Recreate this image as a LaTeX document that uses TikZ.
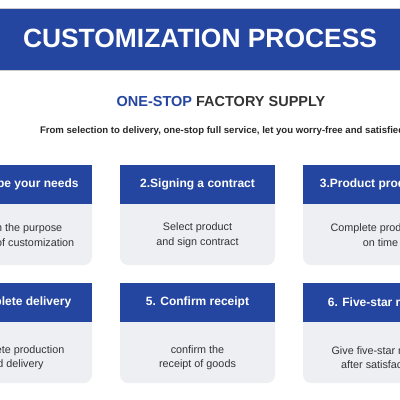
\documentclass[tikz,border=0pt]{standalone}
\usepackage{fontspec}
\setmainfont{Liberation Sans}
\usetikzlibrary{positioning}

\definecolor{procblue}{HTML}{2546A0}
\definecolor{cardgray}{HTML}{EEEFF3}
\definecolor{headgray}{HTML}{333333}

\begin{document}
\begin{tikzpicture}[x=1pt, y=-1pt,
		every node/.style={inner sep=0pt, outer sep=0pt},
		cardbody/.style={rectangle, rounded corners=8pt, fill=cardgray, minimum width=155pt, minimum height=100pt},
		cardhead/.style={rectangle, fill=procblue, text=white, minimum width=155pt, minimum height=39pt, font=\bfseries\fontsize{12}{15}\selectfont},
		cardtext/.style={align=center, text=headgray, font=\fontsize{10.8}{14.5}\selectfont}]
	\useasboundingbox (0,0) rectangle (400,400);
	\begin{scope}
	\clip (0,0) rectangle (400,400);
	% title bar
	\node[rectangle, fill=procblue, draw=gray!40, minimum width=420pt, minimum height=62pt] (bar) at (200,39) {};
	\node[text=white, font=\bfseries\fontsize{26.4}{30}\selectfont] (title) at (200,38) {CUSTOMIZATION PROCESS};
	\node[font=\bfseries\fontsize{14.5}{18}\selectfont] (supply) at (221,102) {\textcolor{procblue}{ONE-STOP} \textcolor{headgray}{FACTORY SUPPLY}};
	\node[anchor=west, text=black!85, font=\bfseries\fontsize{9.6}{12}\selectfont] (slogan) at (40,131) {From selection to delivery, one-stop full service, let you worry-free and satisfied};

	% first row
	\node[cardbody] (b1) at (14.5,215) {};
	\node[cardbody] (b2) at (197.5,215) {};
	\node[cardbody] (b3) at (380.5,215) {};
	\node[cardhead] (h1) at (14.5,184.5) {1.Describe your needs};
	\node[cardhead] (h2) at (197.5,184.5) {2.Signing a contract};
	\node[cardhead] (h3) at (380.5,184.5) {3.Product production};
	\node[cardtext] (t1) at (14.5,235) {Explain the purpose\\and use of customization};
	\node[cardtext] (t2) at (197.5,235) {Select product\\and sign contract};
	\node[cardtext] (t3) at (380.5,235) {Complete production\\on time};

	% second row
	\node[cardbody] (b4) at (14.5,333) {};
	\node[cardbody] (b5) at (197.5,333) {};
	\node[cardbody] (b6) at (380.5,333) {};
	\node[cardhead] (h4) at (14.5,302.5) {4.Complete delivery};
	\node[cardhead] (h5) at (197.5,302.5) {5. Confirm receipt};
	\node[cardhead] (h6) at (380.5,302.5) {6. Five-star review};
	\node[cardtext] (t4) at (14.5,357.5) {Complete production\\and delivery};
	\node[cardtext] (t5) at (197.5,357.5) {confirm the\\receipt of goods};
	\node[cardtext] (t6) at (380.5,357.5) {Give five-star review\\after satisfaction};
	\end{scope}
\end{tikzpicture}
\end{document}
